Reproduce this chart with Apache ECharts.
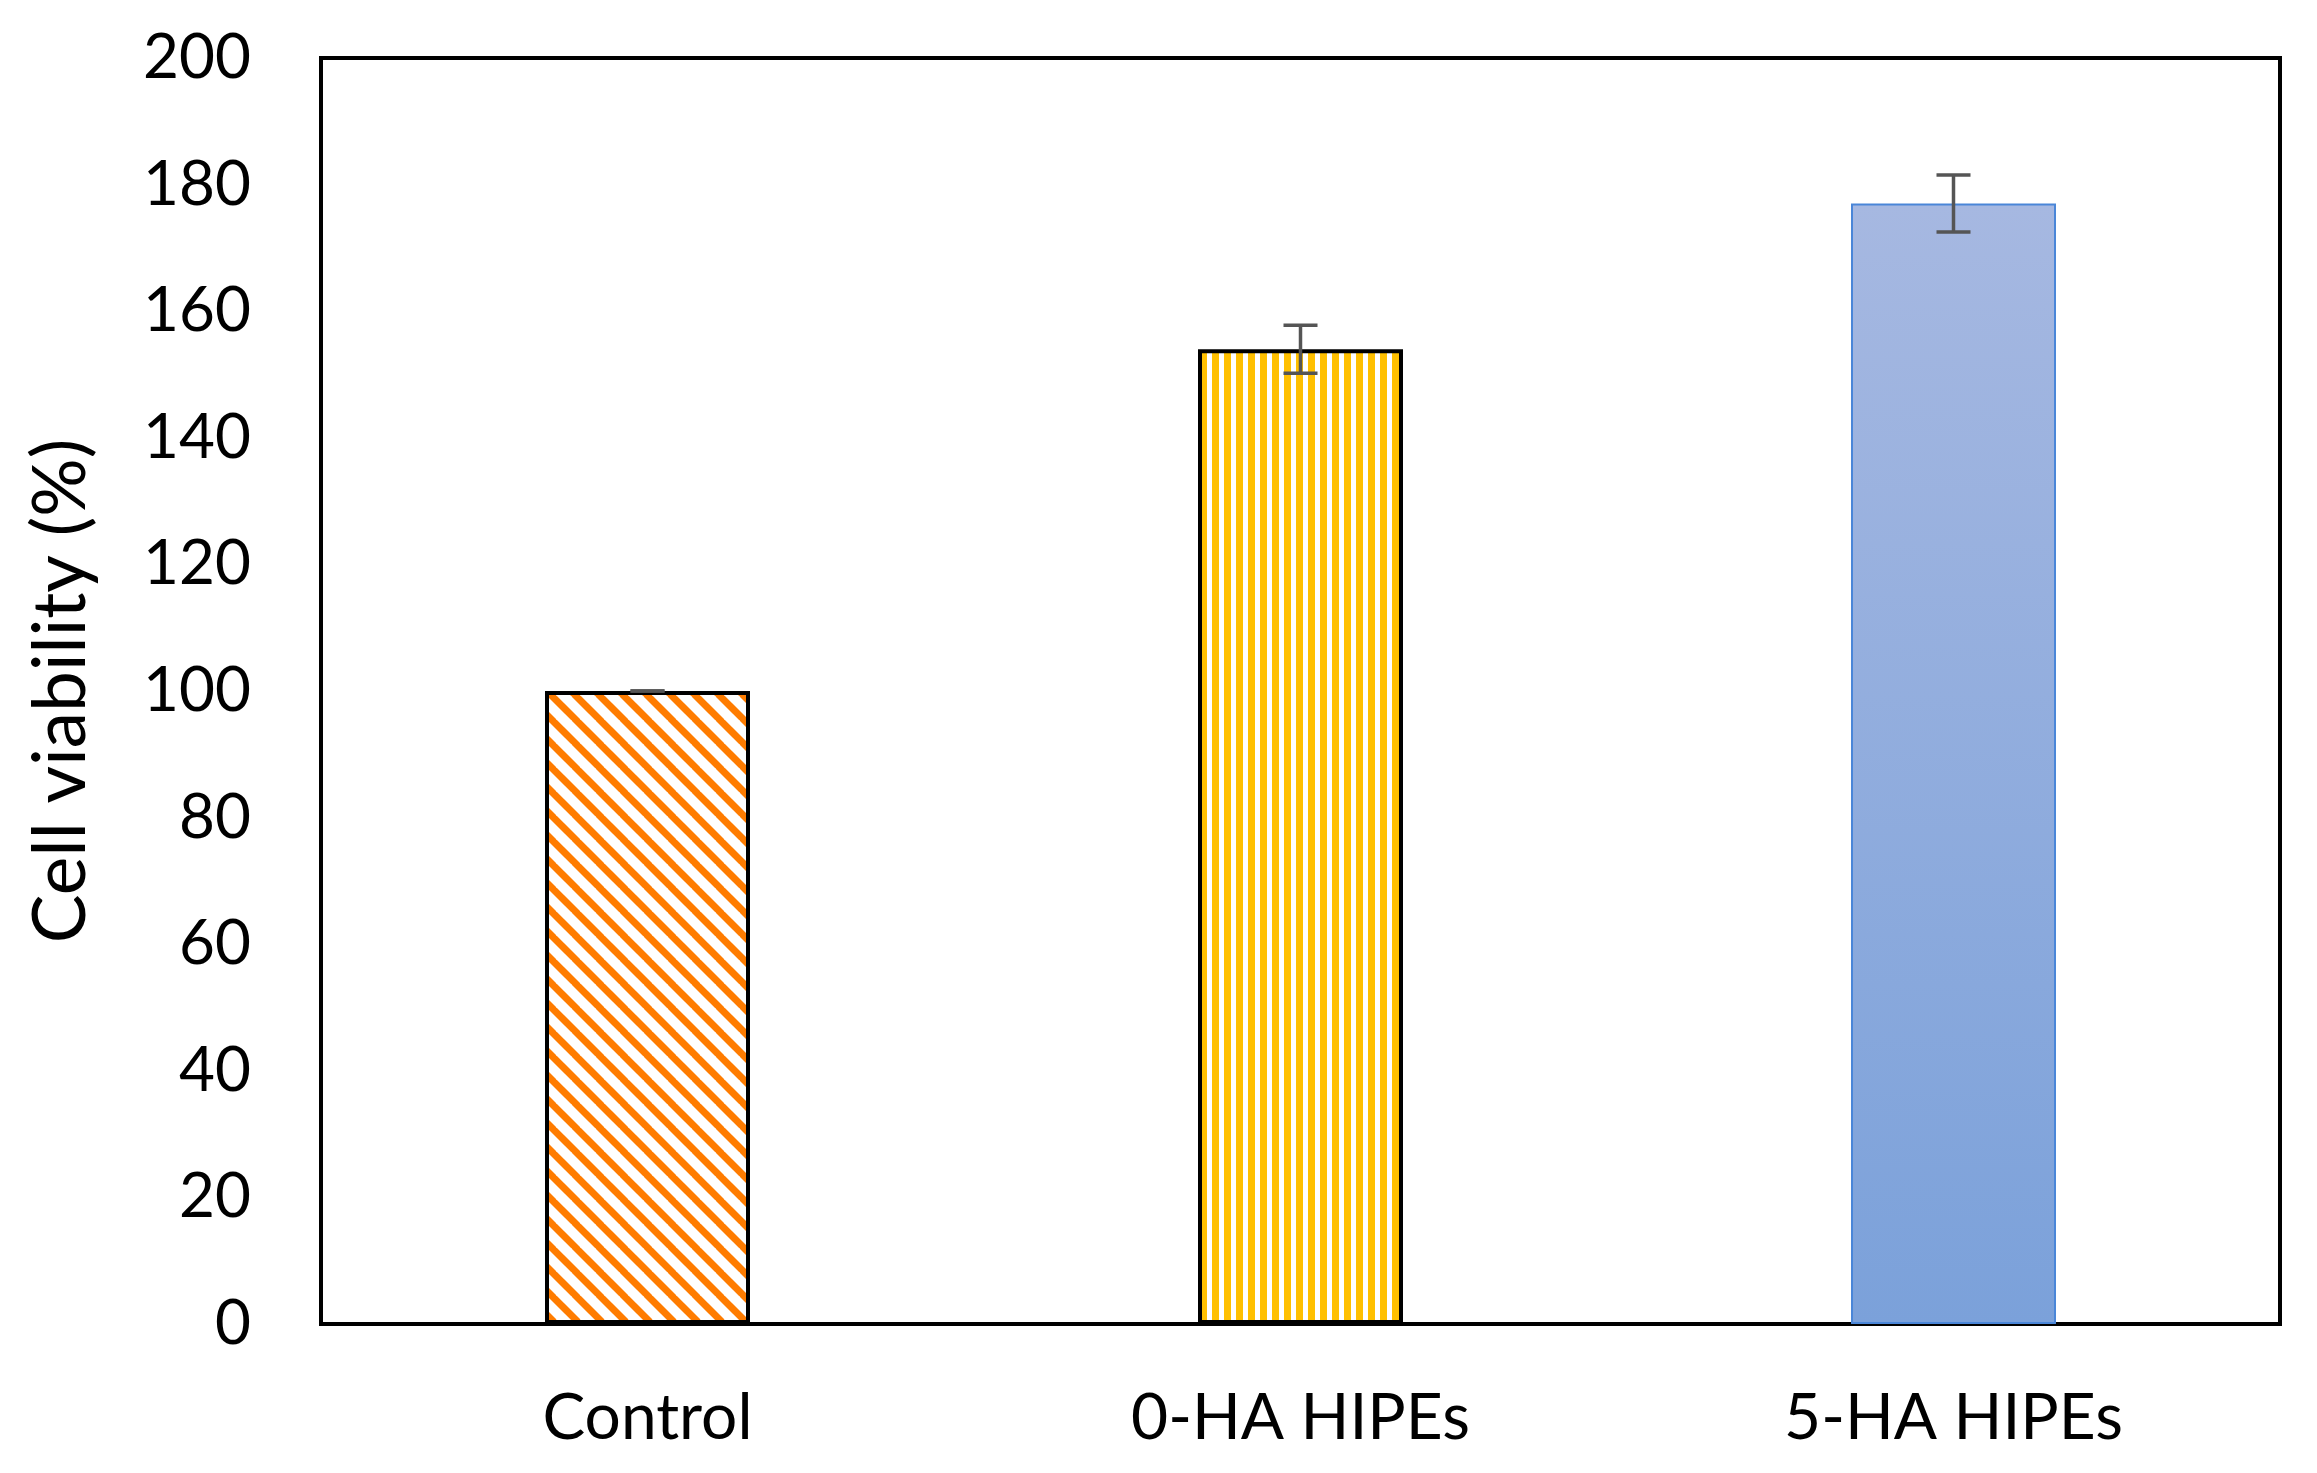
<!DOCTYPE html>
<html>
<head>
<meta charset="utf-8">
<script src="https://cdn.jsdelivr.net/npm/echarts@6/dist/echarts.min.js"></script>
<style>
html,body{margin:0;padding:0;background:#fff;}
#chart{width:2317px;height:1473px;}
</style>
</head>
<body>
<div id="chart"></div>
<script>
var categories = ['Control', '0-HA HIPEs', '5-HA HIPEs'];
var values = [100, 154, 177];
var errors = [0, 3.8, 4.5];
var yTicks = [0, 20, 40, 60, 80, 100, 120, 140, 160, 180, 200];

function diagPattern() {
  var s = 24, c = document.createElement('canvas');
  c.width = s; c.height = s;
  var g = c.getContext('2d');
  g.fillStyle = '#ffffff'; g.fillRect(0, 0, s, s);
  g.strokeStyle = '#FF7C00'; g.lineWidth = 7;
  for (var k = -1; k <= 1; k++) {
    g.beginPath();
    g.moveTo(k * s - 2, -2);
    g.lineTo(k * s + s + 2, s + 2);
    g.stroke();
  }
  return c;
}
function vertPattern() {
  var c = document.createElement('canvas');
  c.width = 12; c.height = 4;
  var g = c.getContext('2d');
  g.fillStyle = '#ffffff'; g.fillRect(0, 0, 12, 4);
  g.fillStyle = '#FFC000'; g.fillRect(0, 0, 7, 4);
  return c;
}

var barStyles = [
  { color: { image: diagPattern(), repeat: 'repeat' }, borderColor: '#000', borderWidth: 4 },
  { color: { image: vertPattern(), repeat: 'repeat' }, borderColor: '#000', borderWidth: 4 },
  { color: { type: 'linear', x: 0, y: 0, x2: 0, y2: 1,
      colorStops: [{ offset: 0, color: '#A6B8E1' }, { offset: 1, color: '#7BA1DA' }] },
    borderColor: '#4A86D8', borderWidth: 2 }
];

var barData = values.map(function (v, i) {
  return { value: v, itemStyle: barStyles[i] };
});
var errData = values.map(function (v, i) {
  return [i, v - errors[i], v + errors[i]];
});

var chart = echarts.init(document.getElementById('chart'));
chart.setOption({
  backgroundColor: '#ffffff',
  animation: false,
  grid: { left: 321, right: 37, top: 58, bottom: 149, show: true,
    borderColor: '#000', borderWidth: 4, backgroundColor: 'transparent' },
  xAxis: {
    type: 'category', data: categories,
    axisLine: { show: true, lineStyle: { color: '#000', width: 4 } },
    axisTick: { show: false },
    axisLabel: { color: '#000', fontFamily: 'Lato', fontSize: 64, margin: 62 }
  },
  yAxis: {
    type: 'value', min: 0, max: 200, interval: 20,
    name: 'Cell viability (%)', nameLocation: 'middle', nameGap: 223,
    nameTextStyle: { color: '#000', fontFamily: 'Lato', fontSize: 73 },
    axisLine: { show: true, lineStyle: { color: '#000', width: 4 } },
    axisTick: { show: false },
    splitLine: { show: false },
    axisLabel: { color: '#000', fontFamily: 'Lato', fontSize: 62, margin: 70,
      formatter: function (v) { return yTicks.indexOf(v) >= 0 ? String(v) : ''; } }
  },
  series: [
    { type: 'bar', data: barData, barWidth: 205 },
    {
      type: 'custom', data: errData, z: 10,
      renderItem: function (params, api) {
        var x = api.value(0);
        var lo = api.coord([x, api.value(1)]);
        var hi = api.coord([x, api.value(2)]);
        var hw = 17;
        var st = { stroke: '#555555', lineWidth: 3.5 };
        return { type: 'group', children: [
          { type: 'line', shape: { x1: lo[0], y1: lo[1], x2: hi[0], y2: hi[1] }, style: st },
          { type: 'line', shape: { x1: lo[0] - hw, y1: lo[1], x2: lo[0] + hw, y2: lo[1] }, style: st },
          { type: 'line', shape: { x1: hi[0] - hw, y1: hi[1], x2: hi[0] + hw, y2: hi[1] }, style: st }
        ] };
      }
    }
  ]
});
</script>
</body>
</html>
